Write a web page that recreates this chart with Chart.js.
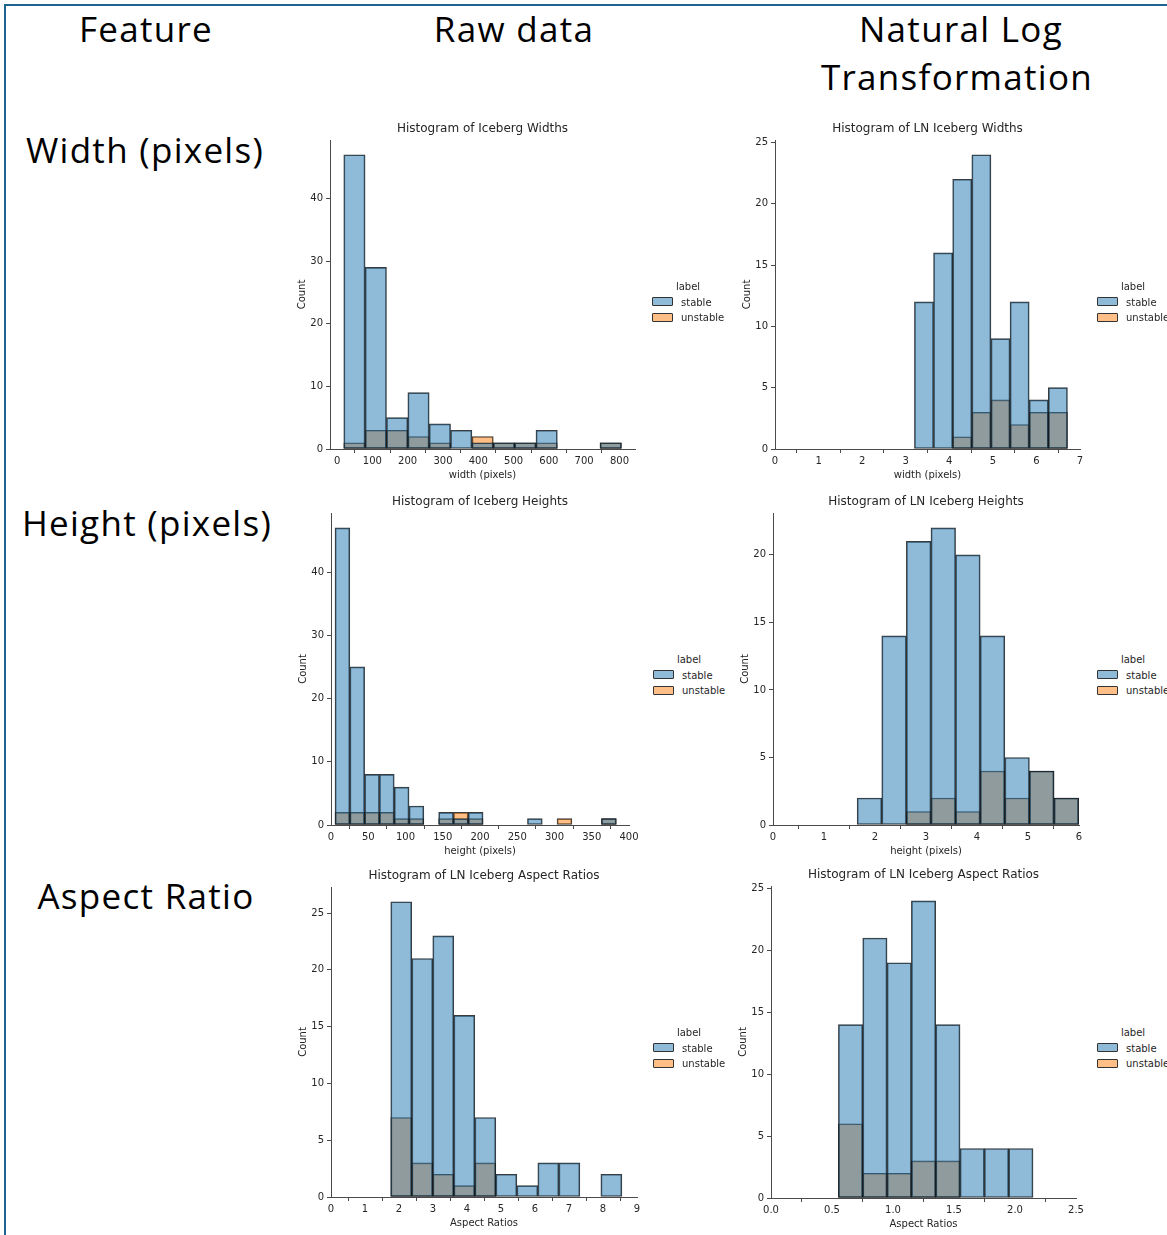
<!DOCTYPE html>
<html lang="en">
<head>
<meta charset="UTF-8">
<title>Iceberg feature histograms</title>
<script src="https://cdn.jsdelivr.net/npm/chart.js"></script>
<style>
    * { margin: 0; padding: 0; box-sizing: border-box; }
    body {
        width: 1167px;
        height: 1235px;
        position: relative;
        overflow: hidden;
        background: #fff;
        font-family: 'Open Sans', sans-serif;
    }
    .frame {
        position: absolute;
        left: 4px;
        top: 4px;
        width: 1200px;
        height: 1300px;
        border-top: 2px solid #1f6491;
        border-left: 2px solid #1f6491;
    }
    .head {
        position: absolute;
        font-size: 35px;
        line-height: 35px;
        letter-spacing: 1.3px;
        color: #000;
        white-space: nowrap;
        transform: translateX(-50%);
    }
    canvas { position: absolute; }
    .legend {
        position: absolute;
        width: 72px;
        font-family: 'DejaVu Sans', sans-serif;
        font-size: 10px;
        color: #262626;
        white-space: nowrap;
    }
    .legend div { height: 15.5px; line-height: 15.5px; }
    .legend .ttl { text-align: center; }
    .legend .patch {
        display: inline-block;
        width: 21px;
        height: 9px;
        border: 1px solid #333;
        border-radius: 1px;
        vertical-align: middle;
        margin: -2px 8px 0 0;
    }
</style>
</head>
<body>
<div class="frame"></div>

<div class="head" style="left:146px; top:11px;">Feature</div>
<div class="head" style="left:514px; top:11px;">Raw data</div>
<div class="head" style="left:961px; top:11px;">Natural Log</div>
<div class="head" style="left:957px; top:59px;">Transformation</div>
<div class="head" style="left:145px; top:132px;">Width (pixels)</div>
<div class="head" style="left:147px; top:505px;">Height (pixels)</div>
<div class="head" style="left:146px; top:878px;">Aspect Ratio</div>

<script>
    // ---- data ----
    const seriesNames = ['stable', 'unstable'];

    // width, raw
    const rawWidthBins = [19, 60.5];          // first edge, bin size
    const rawWidthStable = [47, 29, 5, 9, 4, 3, 1, 1, 1, 3, 0, 0, 1];
    const rawWidthUnstable = [1, 3, 3, 2, 1, 0, 2, 1, 1, 1, 0, 0, 1];
    const rawWidthTicks = [0, 100, 200, 300, 400, 500, 600, 700, 800];
    const rawWidthCounts = [0, 10, 20, 30, 40];

    // width, ln
    const lnWidthBins = [3.2, 0.439];
    const lnWidthStable = [12, 16, 22, 24, 9, 12, 4, 5];
    const lnWidthUnstable = [0, 0, 1, 3, 4, 2, 3, 3];
    const lnWidthTicks = [0, 1, 2, 3, 4, 5, 6, 7];
    const lnWidthCounts = [0, 5, 10, 15, 20, 25];

    // height, raw
    const rawHeightBins = [5.4, 19.87];
    const rawHeightStable = [47, 25, 8, 8, 6, 3, 0, 2, 1, 2, 0, 0, 0, 1, 0, 0, 0, 0, 1];
    const rawHeightUnstable = [2, 2, 2, 2, 1, 1, 0, 1, 2, 1, 0, 0, 0, 0, 0, 1, 0, 0, 1];
    const rawHeightTicks = [0, 50, 100, 150, 200, 250, 300, 350, 400];
    const rawHeightCounts = [0, 10, 20, 30, 40];

    // height, ln
    const lnHeightBins = [1.65, 0.4825];
    const lnHeightStable = [2, 14, 21, 22, 20, 14, 5, 4, 2];
    const lnHeightUnstable = [0, 0, 1, 2, 1, 4, 2, 4, 2];
    const lnHeightTicks = [0, 1, 2, 3, 4, 5, 6];
    const lnHeightCounts = [0, 5, 10, 15, 20];

    // aspect ratio, raw
    const rawAspectBins = [1.757, 0.618];
    const rawAspectStable = [26, 21, 23, 16, 7, 2, 1, 3, 3, 0, 2];
    const rawAspectUnstable = [7, 3, 2, 1, 3, 0, 0, 0, 0, 0, 0];
    const rawAspectTicks = [0, 1, 2, 3, 4, 5, 6, 7, 8, 9];
    const rawAspectCounts = [0, 5, 10, 15, 20, 25];

    // aspect ratio, ln
    const lnAspectBins = [0.5525, 0.1994];
    const lnAspectStable = [14, 21, 19, 24, 14, 4, 4, 4];
    const lnAspectUnstable = [6, 2, 2, 3, 3, 0, 0, 0];
    const lnAspectTicks = [0, 0.5, 1, 1.5, 2, 2.5];
    const lnAspectCounts = [0, 5, 10, 15, 20, 25];

    // ---- drawing ----
    const fills = ['rgba(31, 119, 180, 0.5)', 'rgba(255, 127, 14, 0.5)'];
    const ink = '#262626';
    const axisColor = '#4a4a4a';
    const smallFont = { family: 'DejaVu Sans', size: 10 };

    function toPoints(bins, counts) {
        return counts.map((c, i) => ({ x: bins[0] + (i + 0.5) * bins[1], y: c === 0 ? null : c }));
    }

    function addLegend(left, top) {
        const box = document.createElement('div');
        box.className = 'legend';
        box.style.left = left + 'px';
        box.style.top = top + 'px';
        let html = '<div class="ttl">label</div>';
        seriesNames.forEach((name, i) => {
            html += '<div><span class="patch" style="background:' + fills[i] + '"></span>' + name + '</div>';
        });
        box.innerHTML = html;
        document.body.appendChild(box);
    }

    function makeHist(c) {
        const area = c.area; // left, right, top, bottom of the plot
        const canvas = document.createElement('canvas');
        const w = (area[1] - area[0]) + 45 + 18;
        const h = (area[3] - area[2]) + 30 + 40;
        canvas.width = w;
        canvas.height = h;
        canvas.style.left = (area[0] - 45) + 'px';
        canvas.style.top = (area[2] - 30) + 'px';
        canvas.style.width = w + 'px';
        canvas.style.height = h + 'px';
        document.body.appendChild(canvas);

        new Chart(canvas, {
            type: 'bar',
            data: {
                datasets: [
                    { label: seriesNames[0], data: toPoints(c.bins, c.stable), backgroundColor: fills[0] },
                    { label: seriesNames[1], data: toPoints(c.bins, c.unstable), backgroundColor: fills[1] }
                ]
            },
            options: {
                responsive: false,
                animation: false,
                devicePixelRatio: 1,
                layout: { padding: { left: 0, right: 18, top: 0, bottom: 0 } },
                datasets: {
                    bar: {
                        grouped: false,
                        barPercentage: 1,
                        categoryPercentage: 1,
                        borderColor: 'rgba(25, 25, 25, 0.85)',
                        borderWidth: 1,
                        borderSkipped: false
                    }
                },
                plugins: {
                    legend: { display: false },
                    tooltip: { enabled: false },
                    title: {
                        display: true,
                        fullSize: false,
                        text: c.title,
                        color: ink,
                        font: { family: 'DejaVu Sans', size: 12, weight: 'normal' },
                        padding: { top: 12, bottom: 3.6 }
                    }
                },
                scales: {
                    x: {
                        type: 'linear',
                        min: c.xRange[0],
                        max: c.xRange[1],
                        offset: false,
                        afterBuildTicks: s => { s.ticks = c.xTicks.map(v => ({ value: v })); },
                        afterFit: s => { s.height = 40; },
                        grid: { drawOnChartArea: false, tickLength: 4, color: axisColor },
                        border: { color: axisColor, width: 1 },
                        ticks: {
                            color: ink, font: smallFont, padding: 2, maxRotation: 0, autoSkip: false,
                            callback: v => v.toFixed(c.dec || 0)
                        },
                        title: { display: true, text: c.xTitle, color: ink, font: smallFont, padding: { top: 0, bottom: 8 } }
                    },
                    y: {
                        min: 0,
                        max: Math.max(...c.stable, ...c.unstable) * 1.05,
                        afterBuildTicks: s => { s.ticks = c.yTicks.map(v => ({ value: v })); },
                        afterFit: s => { s.width = 45; },
                        grid: { drawOnChartArea: false, tickLength: 4, color: axisColor },
                        border: { color: axisColor, width: 1 },
                        ticks: { color: ink, font: smallFont, padding: 3 },
                        title: { display: true, text: 'Count', color: ink, font: smallFont, padding: { top: 11, bottom: 0 } }
                    }
                }
            }
        });

        addLegend(c.legend[0], c.legend[1]);
    }

    makeHist({
        title: 'Histogram of Iceberg Widths', xTitle: 'width (pixels)',
        bins: rawWidthBins, stable: rawWidthStable, unstable: rawWidthUnstable,
        xTicks: rawWidthTicks, yTicks: rawWidthCounts, xRange: [-20, 844],
        area: [330, 635, 140, 449], legend: [652, 279]
    });
    makeHist({
        title: 'Histogram of LN Iceberg Widths', xTitle: 'width (pixels)',
        bins: lnWidthBins, stable: lnWidthStable, unstable: lnWidthUnstable,
        xTicks: lnWidthTicks, yTicks: lnWidthCounts, xRange: [0, 7],
        area: [775, 1080, 140, 449], legend: [1097, 279]
    });
    makeHist({
        title: 'Histogram of Iceberg Heights', xTitle: 'height (pixels)',
        bins: rawHeightBins, stable: rawHeightStable, unstable: rawHeightUnstable,
        xTicks: rawHeightTicks, yTicks: rawHeightCounts, xRange: [0, 400],
        area: [331, 629, 513, 825], legend: [653, 652]
    });
    makeHist({
        title: 'Histogram of LN Iceberg Heights', xTitle: 'height (pixels)',
        bins: lnHeightBins, stable: lnHeightStable, unstable: lnHeightUnstable,
        xTicks: lnHeightTicks, yTicks: lnHeightCounts, xRange: [0, 6],
        area: [773, 1079, 513, 825], legend: [1097, 652]
    });
    makeHist({
        title: 'Histogram of LN Iceberg Aspect Ratios', xTitle: 'Aspect Ratios',
        bins: rawAspectBins, stable: rawAspectStable, unstable: rawAspectUnstable,
        xTicks: rawAspectTicks, yTicks: rawAspectCounts, xRange: [0, 9],
        area: [331, 637, 887, 1197], legend: [653, 1025]
    });
    makeHist({
        title: 'Histogram of LN Iceberg Aspect Ratios', xTitle: 'Aspect Ratios',
        bins: lnAspectBins, stable: lnAspectStable, unstable: lnAspectUnstable,
        xTicks: lnAspectTicks, yTicks: lnAspectCounts, xRange: [0, 2.5], dec: 1,
        area: [771, 1076, 886, 1198], legend: [1097, 1025]
    });
</script>
</body>
</html>
